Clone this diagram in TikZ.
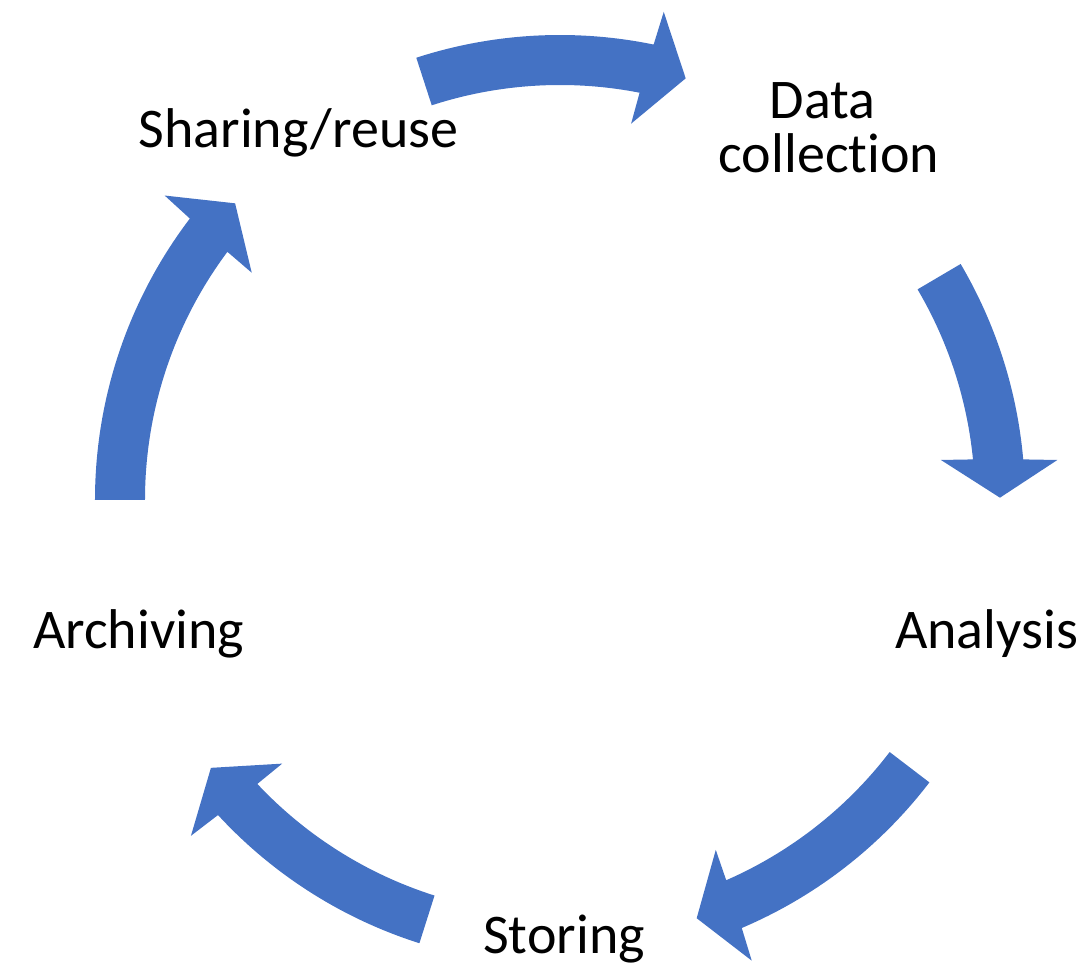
\documentclass[tikz,border=0pt]{standalone}
\usepackage{fontspec}
\setmainfont{Carlito}[RawFeature={-liga;-clig;-dlig}]
\definecolor{cycblue}{HTML}{4472C4}
\tikzset{
  arrowfill/.style={fill=cycblue, draw=none},
  lbl/.style={anchor=base, inner sep=0pt, font=\fontsize{56}{66}\selectfont, text=black}
}
% #1 tail angle, #2 outer barb angle, #3 inner barb angle, #4 tip angle
\newcommand{\cycarrow}[4]{%
  \fill[arrowfill] (#1:465pt)
    arc[start angle=#1, end angle={#2+(#3-#2)*0.293}, radius=465pt]
    -- ({#2}:499pt) -- ({#4}:440pt) -- ({#3}:383pt)
    -- ({#2+(#3-#2)*0.724}:415pt)
    arc[start angle={#2+(#3-#2)*0.724}, end angle=#1, radius=415pt]
    -- cycle;}
\begin{document}
\begin{tikzpicture}
\useasboundingbox (-560pt,-466pt) rectangle (532pt,500pt);
% arrows
\cycarrow{108}{78.0}{79.3}{73.4}
\cycarrow{30.5}{4.6}{6.0}{0.3}
\cycarrow{-37.4}{-67.4}{-66.0}{-71.9}
\cycarrow{-107.6}{-137.7}{-136.5}{-142.5}
\cycarrow{180}{142.4}{143.6}{137.6}
% labels
\node[lbl] (share) at (-261.5pt,352pt) {Sharing/reuse};
\node[lbl] (data1) at (262.5pt,381pt) {Data};
\node[lbl] (data2) at (269pt,327pt) {collect\kern0pt ion};
\node[lbl] (anal) at (426.5pt,-148pt) {Analysis};
\node[lbl] (arch) at (-421.5pt,-148pt) {Archiving};
\node[lbl] (stor) at (4pt,-453pt) {Storing};
\end{tikzpicture}
\end{document}
